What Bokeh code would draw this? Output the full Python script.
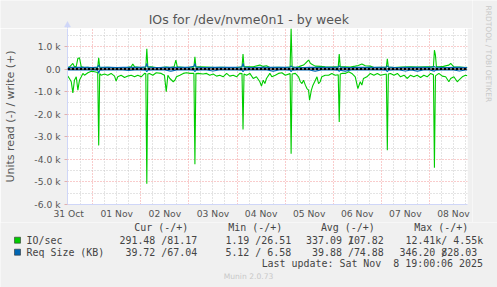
import math
from bokeh.plotting import figure
from bokeh.models import Range1d, FixedTicker, Span
from bokeh.layouts import column, row
from bokeh.embed import file_html
from bokeh.resources import INLINE
from bokeh.core.properties import value

# ---------------- data (hours since 31 Oct 00:00) ----------------
read_hours = [11.6, 12.4, 13.3, 14.1, 14.9, 15.8, 16.6, 17.4, 18.3, 19.1, 19.9, 21.6, 23.3, 24.9,
              26.5, 27.0, 27.5, 28.2, 29.9, 31.5, 33.2, 34.9, 35.7, 36.5, 38.2, 39.9, 41.5, 43.2,
              44.9, 46.5, 48.2, 49.9, 50.5, 51.0, 51.5, 52.3, 54.0, 55.7, 58.2, 59.8, 60.7, 61.5,
              62.5, 64.2, 65.0, 65.8, 67.5, 69.2, 70.8, 72.5, 74.5, 75.0, 75.5, 76.6, 79.1, 80.8,
              82.4, 84.1, 85.8, 87.4, 89.1, 90.8, 92.4, 94.1, 95.8, 97.4, 98.5, 99.0, 99.5, 100.8,
              102.4, 104.1, 105.7, 107.4, 108.2, 109.1, 109.9, 110.7, 112.4, 113.4, 115.1, 116.7,
              118.4, 120.1, 122.5, 123.0, 123.5, 125.1, 126.7, 127.6, 128.4, 129.2, 130.1, 130.9,
              131.7, 132.2, 133.1, 133.9, 135.1, 135.9, 136.7, 137.5, 138.3, 140.0, 141.7, 143.3,
              145.0, 146.5, 147.0, 147.5, 148.3, 150.0, 151.7, 153.3, 155.0, 156.3, 157.5, 158.3,
              159.1, 160.8, 162.5, 164.3, 166.0, 167.6, 170.5, 171.0, 171.5, 172.6, 174.3, 176.0,
              177.6, 179.3, 181.0, 182.6, 184.2, 185.9, 187.6, 189.2, 190.9, 192.6, 194.0, 194.5,
              195.0, 196.7, 198.4, 200.1, 201.7, 202.6, 204.2, 205.9, 206.7, 208.4, 210.0, 210.9]
read_iops = [310, 415, 560, 1050, 490, 340, 930, 490, 340, 190, 270, 160, 90, 120,
             150, 3380, 200, 270, 220, 270, 190, 310, 530, 340, 270, 370, 310, 270,
             340, 270, 340, 190, 200, 5080, 220, 190, 270, 160, 190, 270, 1000, 270,
             415, 560, 490, 340, 270, 190, 160, 190, 190, 4220, 200, 190, 220, 190,
             270, 220, 310, 270, 340, 190, 310, 270, 340, 190, 200, 2680, 220, 270,
             190, 415, 340, 560, 755, 490, 640, 415, 190, 340, 270, 190,
             160, 270, 200, 3750, 220, 190, 340, 560, 640, 490, 710, 860,
             930, 1380, 930, 710, 490, 340, 640, 560, 340, 270, 270, 190,
             270, 250, 2340, 220, 190, 190, 120, 190, 340, 860, 560, 710,
             415, 340, 190, 270, 190, 270, 220, 3600, 220, 190, 270, 190,
             340, 270, 415, 270, 340, 270, 370, 270, 340, 190, 250, 4370,
             300, 190, 310, 340, 560, 415, 340, 560, 490, 340, 270, 290]

write_hours = [11.6, 12.4, 13.3, 14.1, 14.9, 15.8, 16.6, 17.4, 18.3, 19.9, 21.6, 23.3, 24.9, 26.5,
               27.0, 27.5, 29.0, 31.5, 35.0, 38.2, 41.0, 43.2, 44.0, 44.9, 48.0, 50.5, 51.0, 51.5,
               53.0, 55.7, 58.0, 60.7, 62.5, 64.6, 65.5, 66.2, 70.0, 72.5, 74.5, 75.0, 75.5, 77.0,
               81.0, 85.0, 88.0, 92.0, 95.8, 98.5, 99.0, 99.5, 101.0, 104.1, 107.4, 109.1, 110.7,
               112.4, 116.7, 120.0, 122.5, 123.0, 123.5, 125.1, 126.7, 127.6, 129.2, 130.1, 131.7,
               132.5, 133.1, 135.0, 137.5, 140.0, 143.3, 145.0, 146.5, 147.0, 147.5, 150.0, 152.5,
               155.0, 156.5, 158.3, 160.0, 162.5, 164.3, 168.0, 170.5, 171.0, 171.5, 174.0, 178.0,
               182.6, 186.0, 190.0, 194.0, 194.5, 195.0, 195.5, 196.7, 199.0, 201.7, 202.6, 204.2,
               207.0, 210.0, 210.9]
write_iops = [74, 90, 178, 252, 104, 120, 474, 504, 104, 74, 80, 60, 74, 74,
              504, 80, 74, 80, 60, 74, 74, 104, 222, 104, 74, 80, 900, 90,
              104, 74, 74, 90, 74, 104, 400, 104, 74, 80, 80, 550, 90, 104,
              90, 74, 80, 74, 80, 90, 670, 100, 104, 104, 178, 120, 148,
              74, 80, 74, 90, 1800, 100, 74, 104, 133, 178, 252, 400,
              281, 222, 133, 120, 104, 90, 104, 90, 670, 100, 104, 90,
              133, 160, 222, 148, 133, 74, 80, 80, 460, 90, 74, 90,
              104, 90, 104, 100, 840, 620, 100, 104, 120, 178, 252, 104,
              90, 74, 81]

req_hours = [11.5, 15, 18, 21, 24, 26.5, 27, 27.5, 30, 33, 36, 39, 42, 45, 48, 50.5, 51, 51.5,
             54, 57, 60, 63, 66, 69, 72, 74.5, 75, 75.5, 78, 81, 84, 87, 90, 93, 96, 98.5, 99,
             99.5, 102, 105, 108, 111, 114, 117, 120, 122.5, 123, 123.5, 126, 129, 132, 135, 138,
             141, 144, 146.5, 147, 147.5, 150, 153, 156, 159, 162, 165, 168, 170.5, 171, 171.5,
             174, 177, 180, 183, 186, 189, 192, 194.5, 195, 198, 201, 204, 207, 210, 210.9]
req_read_kb = [40, 42, 38, 41, 39, 45, 190, 50, 40, 42, 41, 38, 60, 40, 39, 45, 120, 48,
               40, 38, 42, 90, 40, 41, 39, 45, 110, 50, 40, 42, 80, 40, 41, 39, 42, 45, 120,
               50, 40, 41, 39, 42, 90, 40, 41, 45, 110, 50, 40, 42, 39, 90, 40,
               41, 39, 45, 100, 48, 90, 41, 39, 42, 40, 41, 39, 45, 120, 48,
               40, 42, 80, 40, 90, 41, 39, 90, 45, 40, 42, 39, 80, 40, 39.7]
req_write_kb = [76, 78, 75, 80, 74, 90, 180, 85, 76, 78, 74, 77, 75, 76, 78, 100, 250, 85,
                75, 74, 77, 76, 75, 78, 76, 120, 250, 90, 76, 74, 77, 75, 76, 78, 75, 100, 250,
                90, 76, 74, 77, 75, 76, 78, 75, 90, 150, 85, 76, 74, 77, 75, 76,
                78, 75, 90, 150, 85, 76, 74, 77, 75, 76, 78, 75, 90, 150, 85,
                76, 74, 77, 75, 76, 78, 75, 110, 85, 76, 74, 77, 75, 70, 67]

day_labels = ["31 Oct", "01 Nov", "02 Nov", "03 Nov", "04 Nov", "05 Nov", "06 Nov", "07 Nov", "08 Nov"]
label_hours = [12, 36, 60, 84, 108, 132, 156, 180, 204]
midnight_hours = [24, 48, 72, 96, 120, 144, 168, 192]
six_hour_hours = [18, 30, 36, 42, 54, 60, 66, 78, 84, 90, 102, 108, 114, 126, 132, 138,
                  150, 156, 162, 174, 180, 186, 198, 204, 210]
y_ticks = [1000, 0, -1000, -2000, -3000, -4000, -5000, -6000]
y_tick_labels = ["1.0 k", "0.0", "-1.0 k", "-2.0 k", "-3.0 k", "-4.0 k", "-5.0 k", "-6.0 k"]
y_minor = [1500, 500, -500, -1500, -2500, -3500, -4500, -5500]

stat_headers = ["Cur (-/+)", "Min (-/+)", "Avg (-/+)", "Max (-/+)"]
series_names = ["IO/sec", "Req Size (KB)"]
series_colors = ["#00CC00", "#0066B3"]
io_read = ["291.48", "1.19", "337.09", "12.41k"]
io_write = ["81.17", "26.51", "107.82", "4.55k"]
rs_read = ["39.72", "5.12", "39.88", "346.20"]
rs_write = ["67.04", "6.58", "74.88", "828.03"]
last_update = "Last update: Sat Nov  8 19:00:06 2025"
version_text = "Munin 2.0.73"
watermark = "RRDTOOL / TOBI OETIKER"
title_text = "IOs for /dev/nvme0n1 - by week"

# ---------------- layout constants ----------------
BG = "#F0F0F0"
AXIS = "#CFD6F8"
SANS = "DejaVu Sans"
MONO = "DejaVu Sans Mono"
W, H = 497, 287
MAIN_W = 472          # width of title strip + chart
TITLE_H = 28          # title strip height (frame top of chart at y=28)
CHART_H = 194         # chart figure height (frame 28..204 + x-axis labels)
LG_H = H - TITLE_H - CHART_H
FRAME_L = 67


def bare(width, height):
    f = figure(width=width, height=height, x_range=Range1d(0, width), y_range=Range1d(height, 0),
               output_backend="svg", toolbar_location=None, x_axis_type=None, y_axis_type=None,
               min_border=0)
    f.frame_align = False
    f.background_fill_color = BG
    f.border_fill_color = BG
    f.outline_line_color = None
    f.grid.visible = False
    return f


# ---------------- title strip ----------------
top = bare(MAIN_W, TITLE_H)
top.text(x=[248.3], y=[19.3], text=[title_text], text_align="center", text_baseline="middle",
         text_font=value(SANS), text_font_size="12.5px", text_color="#555555")
# arrow head on top of the y axis
top.segment(x0=[FRAME_L], y0=[25], x1=[FRAME_L], y1=[TITLE_H], line_color=AXIS, line_width=1)
top.patch(x=[FRAME_L - 3, FRAME_L, FRAME_L + 3], y=[26.5, 21, 26.5], fill_color=AXIS,
          line_color=AXIS, line_width=0.5)

# ---------------- main chart ----------------
p = figure(width=MAIN_W, height=CHART_H, x_range=Range1d(11.43, 211.0),
           y_range=Range1d(-6000, 1800), output_backend="svg", toolbar_location=None,
           min_border_left=FRAME_L, min_border_right=MAIN_W - 467, min_border_top=0,
           min_border_bottom=CHART_H - 176)
p.frame_align = False
p.background_fill_color = "#FFFFFF"
p.border_fill_color = BG
p.outline_line_color = None

p.xaxis.ticker = FixedTicker(ticks=label_hours)
p.xaxis.major_label_overrides = {h: l for h, l in zip(label_hours, day_labels)}
p.xaxis.major_tick_out = 0
p.xaxis.major_tick_in = 0
p.xaxis.minor_tick_out = 0
p.xaxis.minor_tick_in = 0
p.xaxis.major_label_standoff = 3
p.xaxis.axis_line_color = AXIS
p.xaxis.major_label_text_font = SANS
p.xaxis.major_label_text_font_size = "9.2px"
p.xaxis.major_label_text_color = "#555555"

p.yaxis.ticker = FixedTicker(ticks=y_ticks)
p.yaxis.major_label_overrides = {t: l for t, l in zip(y_ticks, y_tick_labels)}
p.yaxis.major_tick_out = 3
p.yaxis.major_tick_in = 0
p.yaxis.minor_tick_out = 0
p.yaxis.minor_tick_in = 0
p.yaxis.major_tick_line_color = "#E0B0B0"
p.yaxis.major_label_standoff = 4
p.yaxis.axis_line_color = AXIS
p.yaxis.major_label_text_font = SANS
p.yaxis.major_label_text_font_size = "9.2px"
p.yaxis.major_label_text_color = "#555555"
p.yaxis.axis_label = "Units read (-) / write (+)"
p.yaxis.axis_label_text_font = SANS
p.yaxis.axis_label_text_font_size = "11px"
p.yaxis.axis_label_text_font_style = "normal"
p.yaxis.axis_label_text_color = "#555555"
p.yaxis.axis_label_standoff = 14

p.xgrid.ticker = FixedTicker(ticks=midnight_hours, minor_ticks=six_hour_hours)
p.ygrid.ticker = FixedTicker(ticks=y_ticks, minor_ticks=y_minor)
for g in (p.xgrid, p.ygrid):
    g.grid_line_color = "#F08080"
    g.grid_line_alpha = 0.8
    g.grid_line_dash = "1 2"
    g.grid_line_width = 1
    g.minor_grid_line_color = "#C8C8C8"
    g.minor_grid_line_dash = "1 2"
    g.minor_grid_line_width = 1

GREEN, BLUE = series_colors
p.line(write_hours, write_iops, line_color=GREEN, line_width=1.1)
p.line(read_hours, [-v for v in read_iops], line_color=GREEN, line_width=1.1)
p.line(req_hours, req_write_kb, line_color=BLUE, line_width=1.1)
p.line(req_hours, [-v for v in req_read_kb], line_color=BLUE, line_width=1.1)
p.add_layout(Span(location=0, dimension="width", line_color="#000000", line_width=2,
                  line_dash="3 1"))

# ---------------- right strip with watermark ----------------
side = bare(W - MAIN_W, TITLE_H + CHART_H)
side.text(x=[487.5 - MAIN_W], y=[5], text=[watermark], angle=-math.pi / 2, text_align="left",
          text_baseline="middle", text_font=value(SANS), text_font_size="7.5px",
          text_color="#C8C8C8")

# ---------------- legend area ----------------
lg = bare(W, LG_H)
Y_OFF = TITLE_H + CHART_H
CW = 5.98
FS = "9.95px"
TXT = "#444444"
col_right = [196.7, 290.7, 383.3, 476.7]


def put(xs, ys, texts, align="left", font=MONO, size=FS, color=TXT):
    lg.text(x=xs, y=[v - Y_OFF for v in ys], text=texts, text_align=align,
            text_baseline="middle", text_font=value(font), text_font_size=size,
            text_color=color)


put([r - 36 for r in col_right], [227.3] * 4, stat_headers, align="center")

rows_y = [239.7, 251.7]
for name, color, rd, wr, yy in zip(series_names, series_colors,
                                   [io_read, rs_read], [io_write, rs_write], rows_y):
    lg.rect(x=[17], y=[yy - Y_OFF], width=6, height=6, fill_color=color,
            line_color="#303030", line_width=0.6)
    put([26], [yy], [name])
    rd_txt = [s + ("/" if s.endswith("k") else " /") for s in rd]
    put([r - 5 * CW for r in col_right], [yy] * 4, rd_txt, align="right")
    put([r + (CW if s.endswith("k") else 0) for r, s in zip(col_right, wr)], [yy] * 4, wr,
        align="right")

put([482.5], [263.3], [last_update.replace("  ", " \u00a0")], align="right")
put([248], [276.3], [version_text], align="center", font=SANS, size="7.6px", color="#C8C8C8")

layout = column(row(column(top, p, spacing=0), side, spacing=0), lg, spacing=0)
open("out.html", "w").write(file_html(layout, INLINE))
